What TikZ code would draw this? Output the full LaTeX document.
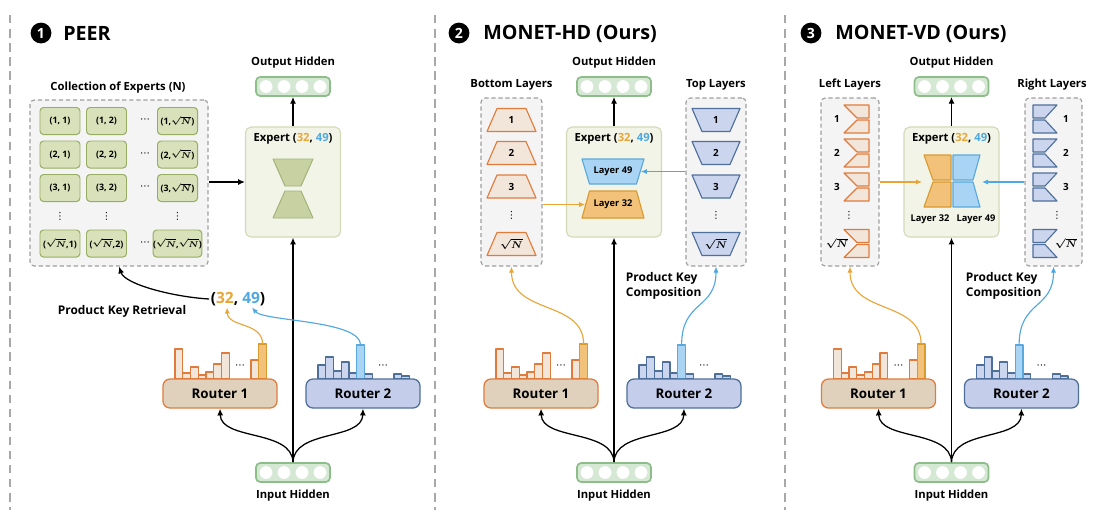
\documentclass[tikz,border=0pt]{standalone}
\usepackage{fontspec}
\setmainfont{Open Sans}
\newfontfamily\symf{DejaVu Sans}
\usetikzlibrary{arrows.meta, calc}
\definecolor{cHid}{HTML}{D5E8D4}
\definecolor{cHidB}{HTML}{8DBD89}
\definecolor{cGray}{HTML}{F4F4F4}
\definecolor{cDash}{HTML}{9E9E9E}
\definecolor{cSep}{HTML}{A8A8A8}
\definecolor{cCell}{HTML}{D8E1B9}
\definecolor{cCellB}{HTML}{97AD62}
\definecolor{cExp}{HTML}{F1F4E6}
\definecolor{cExpB}{HTML}{D3DAB8}
\definecolor{cGlass}{HTML}{C7D1A1}
\definecolor{cGlassB}{HTML}{A4B37A}
\definecolor{cOrB}{HTML}{E17B3C}
\definecolor{cOrL}{HTML}{F2E6DA}
\definecolor{cRa}{HTML}{E0D1BC}
\definecolor{cBlB}{HTML}{4E6F9A}
\definecolor{cBlL}{HTML}{CBD5EE}
\definecolor{cRb}{HTML}{C4CEEA}
\definecolor{cA}{HTML}{E9A638}
\definecolor{cAF}{HTML}{F2C27A}
\definecolor{cAB}{HTML}{D99A2E}
\definecolor{cB}{HTML}{4EA8E2}
\definecolor{cBF}{HTML}{A9D4F3}
\definecolor{cBB}{HTML}{5AA9DE}

\newcommand{\rtN}{{\boldmath$\sqrt{N}$}}
\newcommand{\pkey}{(\textcolor{cA}{32}, \textcolor{cB}{49})}
\newcommand{\hdots}{{\symf\mdseries ⋯}}
\newcommand{\vdts}{{\symf\mdseries ⋮}}
% trapezoid: style, cx, cy, top half width, bottom half width, half height
\newcommand{\trap}[6]{\draw[#1] ({#2-#4},{#3-#6}) -- ({#2+#4},{#3-#6}) -- ({#2+#5},{#3+#6}) -- ({#2-#5},{#3+#6}) -- cycle;}
% half hourglass: style, edge x, cy, outer offset, inner offset, half height
\newcommand{\halfglass}[6]{%
  \draw[#1] ({#2+(#4)},{#3-#6}) -- (#2,{#3-#6}) -- (#2,{#3-1}) -- ({#2+(#5)},{#3-1}) -- cycle;
  \draw[#1] ({#2+(#5)},{#3+1}) -- (#2,{#3+1}) -- (#2,{#3+#6}) -- ({#2+(#4)},{#3+#6}) -- cycle;}

\begin{document}
\begin{tikzpicture}[x=0.025cm, y=-0.025cm,
  every node/.style={font=\fontsize{8}{10}\selectfont\bfseries},
  title/.style={font=\fontsize{14}{16}\selectfont\bfseries, anchor=west, inner sep=0pt},
  tnum/.style={circle, fill=black, text=white, minimum size=0.52cm, inner sep=0pt, font=\fontsize{10}{12}\selectfont\bfseries},
  hid/.style={draw=cHidB, fill=cHid, rounded corners=3pt, minimum width=1.85cm, minimum height=0.475cm, line width=1.2pt},
  dbox/.style={draw=cDash, fill=cGray, dash pattern=on 3pt off 2pt, rounded corners=3pt, line width=0.8pt},
  cell/.style={draw=cCellB, fill=cCell, rounded corners=2.5pt, minimum width=1cm, minimum height=0.675cm, inner sep=0pt, line width=0.7pt, font=\fontsize{6.3}{8}\selectfont\bfseries},
  expbox/.style={draw=cExpB, fill=cExp, rounded corners=4pt, minimum width=2.375cm, minimum height=2.75cm, line width=0.8pt},
  routera/.style={draw=cOrB, fill=cRa, rounded corners=5pt, minimum width=2.85cm, minimum height=0.725cm, line width=0.9pt, font=\fontsize{9.5}{11}\selectfont\bfseries},
  routerb/.style={draw=cBlB, fill=cRb, rounded corners=5pt, minimum width=2.85cm, minimum height=0.725cm, line width=0.9pt, font=\fontsize{9.5}{11}\selectfont\bfseries},
  orshape/.style={draw=cOrB, fill=cOrL, line width=0.8pt, line join=round},
  blshape/.style={draw=cBlB, fill=cBlL, line width=0.8pt, line join=round},
  l32s/.style={draw=cAB, fill=cAF, line width=0.8pt, line join=round},
  l49s/.style={draw=cBB, fill=cBF, line width=0.8pt, line join=round},
  glass/.style={draw=cGlassB, fill=cGlass, line width=0.7pt, line join=round},
  num/.style={font=\fontsize{7}{8}\selectfont\bfseries, inner sep=0pt},
  lay/.style={font=\fontsize{6.6}{8}\selectfont\bfseries, inner sep=0pt},
  big/.style={font=\fontsize{11}{13}\selectfont\bfseries, inner sep=1pt},
  pkl/.style={font=\fontsize{8.5}{10.5}\selectfont\bfseries},
  ar/.style={-{Latex[length=1.7mm,width=1.5mm]}, line width=0.9pt},
  aro/.style={-{Latex[length=1.5mm,width=1.3mm]}, draw=cA, line width=0.8pt},
  arb/.style={-{Latex[length=1.5mm,width=1.3mm]}, draw=cB, line width=0.8pt},
  sep/.style={draw=cSep, dash pattern=on 6pt off 4pt, line width=1pt}
]
\useasboundingbox (0,0) rectangle (1104,515);
\draw[sep] (10,15) -- (10,510);
\draw[sep] (435,15) -- (435,510);
\draw[sep] (785,15) -- (785,510);

% parts shared by the three panels
\foreach \p/\dx in {1/0, 2/321, 3/658.5} {
  \node (outl\p) at ({293+\dx},63) {Output Hidden};
  \node[hid] (out\p) at ({293+\dx},86.5) {};
  \node[hid] (in\p) at ({293+\dx},472.5) {};
  \foreach \k in {-27,-9,9,27} {
    \fill[white] ({293+\dx+\k},86.5) circle[radius=1.6mm];
    \fill[white] ({293+\dx+\k},472.5) circle[radius=1.6mm];
  }
  \node (inl\p) at ({293+\dx},496) {Input Hidden};
  \node[expbox] (exp\p) at ({293+\dx},182) {};
  \node (et\p) at ({293+\dx},139) {Expert \pkey};
  \foreach \bx/\bt in {-45/349, -37.25/373, -29.5/367, -21.75/375, -14/372, -6.25/364, 1.5/353, 31/360}
    \draw[orshape] ({220+\dx+\bx},\bt) rectangle ({220+\dx+\bx+7.75},379);
  \draw[l32s] ({220+\dx+38.75},344) rectangle ({220+\dx+46.5},379);
  \foreach \bx/\bt in {-45/365, -37.25/357, -29.5/371, -21.75/362, -14/373, 1.5/374, 31/374, 38.75/376}
    \draw[blshape] ({363+\dx+\bx},\bt) rectangle ({363+\dx+\bx+7.75},379);
  \draw[l49s] ({363+\dx-6.25},345) rectangle ({363+\dx+1.5},379);
  \node[routera] (ra\p) at ({220+\dx},393.5) {Router 1};
  \node[routerb] (rb\p) at ({363+\dx},393.5) {Router 2};
  \node[num] (da\p) at ({240+\dx},367) {\hdots};
  \node[num] (db\p) at ({383+\dx},367) {\hdots};
  \coordinate (ha\p) at ({220+\dx+42.6},344);
  \coordinate (hb\p) at ({363+\dx-2.4},345);
  \draw[ar] (in\p.north) -- (exp\p.south);
  \draw[ar] (exp\p.north) -- (out\p.south);
  \draw[ar] (in\p.north) .. controls +(-1,-33) and +(1,32) .. (ra\p.south);
  \draw[ar] (in\p.north) .. controls +(1,-33) and +(-1,32) .. (rb\p.south);
}

% PEER
\node[tnum] (n1) at (41,33) {1};
\node[title] (t1) at (63,33.5) {PEER};
\node (colll) at (118,88) {Collection of Experts (N)};
\node[dbox, minimum width=4.45cm, minimum height=4.15cm] (coll) at (119,183) {};
\foreach \yy/\r [count=\i] in {121/1, 154.5/2, 188/3} {
  \node[cell] (c\i-a) at (60,\yy) {(\r, 1)};
  \node[cell] (c\i-b) at (106.5,\yy) {(\r, 2)};
  \node[num] (c\i-d) at (145,\yy) {\hdots};
  \node[cell] (c\i-c) at (177.5,\yy) {(\r,\rtN)};
}
\node[num] (v-a) at (60,216) {\vdts};
\node[num] (v-b) at (106.5,216) {\vdts};
\node[num] (v-c) at (177.5,216) {\vdts};
\node[cell] (c4-a) at (60,243.5) {(\rtN,1)};
\node[cell] (c4-b) at (106.5,243.5) {(\rtN,2)};
\node[num] (c4-d) at (145,243.5) {\hdots};
\node[cell] (c4-c) at (177.5,243.5) {(\rtN,\rtN)};
\trap{glass}{293}{172.5}{20}{8}{13.5}
\trap{glass}{293}{204.5}{8}{20}{13.5}
\node[big] (pk) at (238,299) {\pkey};
\node[pkl] (pkr) at (122,311) {Product Key Retrieval};
\draw[ar] (coll.east |- exp1.west) -- (exp1.west);
\draw[ar] (pk.west) .. controls +(-35,-2) and +(6,18) .. (coll.south);
\draw[aro] (ha1) .. controls +(0,-22) and +(1,20) .. ($(pk.south)+(-11,0)$);
\draw[arb] (hb1) .. controls +(0,-25) and +(12,14) .. ($(pk.south)+(14,0)$);

% MONET-HD
\node[tnum] (n2) at (459,33) {2};
\node[title] (t2) at (483,33.5) {MONET-HD (Ours)};
\node (botl) at (511.5,85) {Bottom Layers};
\node[dbox, minimum width=1.525cm, minimum height=4.2cm] (bots) at (511.5,182) {};
\node (topl) at (716,85) {Top Layers};
\node[dbox, minimum width=1.5cm, minimum height=4.2cm] (tops) at (716,182) {};
\foreach \yy/\lab [count=\i] in {120/1, 153/2, 186.5/3, 244/\rtN} {
  \trap{orshape}{511.5}{\yy}{14.5}{24.5}{11.5}
  \trap{blshape}{716}{\yy}{24}{14}{11.5}
  \node[num] (bl\i) at (511.5,\yy) {\lab};
  \node[num] (tl\i) at (716,\yy) {\lab};
}
\node[num] (bdots) at (511.5,215) {\vdts};
\node[num] (tdots) at (716,215) {\vdts};
\trap{l49s}{613}{171.5}{31}{23.5}{12.5}
\trap{l32s}{613}{204.5}{23.5}{31}{13.5}
\node[lay, minimum width=1.38cm] (l49) at (613,171.5) {Layer 49};
\node[lay, minimum width=1.38cm] (l32) at (613,204.5) {Layer 32};
\draw[aro] (bots.east |- l32.west) -- (l32.west);
\draw[arb] (tops.west |- l49.east) -- (l49.east);
\draw[aro] (ha2) .. controls +(0,-44) and +(0,48) .. (bots.south);
\draw[arb] (hb2) .. controls +(0,-45) and +(0,43) .. (tops.south);
\node[pkl, anchor=west, align=left] (pkc2) at (621,286) {Product Key\\Composition};

% MONET-VD
\node[tnum] (n3) at (811,33) {3};
\node[title] (t3) at (835,33.5) {MONET-VD (Ours)};
\node (leftl) at (850,85) {Left Layers};
\node[dbox, minimum width=1.45cm, minimum height=4.2cm] (lefts) at (850,182) {};
\node (rightl) at (1052,85) {Right Layers};
\node[dbox, minimum width=1.425cm, minimum height=4.2cm] (rights) at (1053.5,182) {};
\foreach \yy/\lab [count=\i] in {119/1, 153/2, 187/3, 243.5/\rtN} {
  \halfglass{orshape}{869}{\yy}{-25}{-12}{14}
  \halfglass{blshape}{1033}{\yy}{24}{12}{14}
  \node[num] (ll\i) at (837,\yy) {\lab};
  \node[num] (rl\i) at (1066,\yy) {\lab};
}
\node[num] (ldots) at (849,215) {\vdts};
\node[num] (rdots) at (1057,215) {\vdts};
\halfglass{l32s}{951}{181}{-27}{-18}{26}
\halfglass{l49s}{953}{181}{27}{20}{26}
\node[lay] (vl32) at (930,219) {Layer 32};
\node[lay] (vl49) at (976,219) {Layer 49};
\coordinate (vd32) at (922,182);
\coordinate (vd49) at (982,182);
\draw[aro] (lefts.east |- vd32) -- (vd32);
\draw[arb] (rights.west |- vd49) -- (vd49);
\draw[aro] (ha3) .. controls +(0,-44) and +(0,48) .. (lefts.south);
\draw[arb] (hb3) .. controls +(0,-45) and +(0,43) .. (rights.south);
\node[pkl, anchor=west, align=left] (pkc3) at (961,286) {Product Key\\Composition};
\end{tikzpicture}
\end{document}
